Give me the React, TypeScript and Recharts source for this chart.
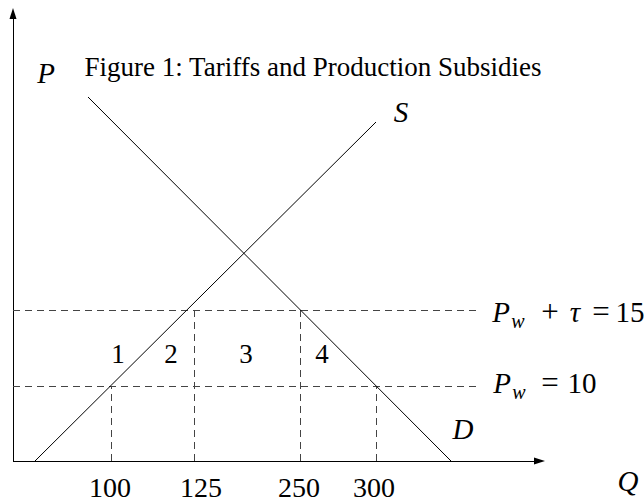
import React from 'react';
import { LineChart, Line, XAxis, YAxis, ReferenceLine, ReferenceDot } from 'recharts';

// Diagram units: the figure is schematic, so positions are in plot units read off the picture
// (origin at the corner of the axes, roughly one unit per pixel).
const Q_MAX = 532;
const P_MAX = 453;

const supplyQ = [22, 363];
const supplyP = [0, 339];
const demandQ = [75, 438];
const demandP = [364, 0];

const priceLevels = [75, 151]; // P_w, P_w + tau
const priceLineEnd = 464;
const dropQ = [98, 181, 287, 363]; // 100, 125, 250, 300
const dropTop = [75, 151, 151, 75];

const qTickPos = [97, 188, 286, 361];
const qTickLabels = ['100', '125', '250', '300'];

const areaLabels = ['1', '2', '3', '4'];
const areaLabelQ = [105, 158, 233, 309];
const areaLabelP = 98;

const FONT = "'Liberation Serif', 'DejaVu Serif', serif";

const supplyData = supplyQ.map((q, i) => ({ q, p: supplyP[i] }));
const demandData = demandQ.map((q, i) => ({ q, p: demandP[i] }));

const Arrow = (props: any) => {
  const { x1, y1, x2, y2 } = props;
  const dx = x2 - x1;
  const dy = y2 - y1;
  const len = Math.hypot(dx, dy) || 1;
  const ux = dx / len;
  const uy = dy / len;
  const hl = 11;
  const hw = 3.5;
  const bx = x2 - ux * hl;
  const by = y2 - uy * hl;
  return (
    <g>
      <line x1={x1} y1={y1} x2={bx} y2={by} stroke="#000" strokeWidth={1} shapeRendering="crispEdges" />
      <polygon
        points={`${x2},${y2} ${bx - uy * hw},${by + ux * hw} ${bx + uy * hw},${by - ux * hw}`}
        fill="#000"
      />
    </g>
  );
};

const textAt = (content: string, italic = false, size = 27) => (p: any) => (
  <text
    x={p.cx}
    y={p.cy}
    textAnchor="middle"
    fontFamily={FONT}
    fontSize={size}
    fontStyle={italic ? 'italic' : 'normal'}
    fill="#000"
  >
    {content}
  </text>
);

// math label pieces: text, centre offset from the label start, italic, subscript
type Piece = [string, number, boolean, boolean];
const pwTauPieces: Piece[] = [
  ['P', 11, true, false],
  ['w', 28, true, true],
  ['+', 60, false, false],
  ['τ', 85, true, false],
  ['=', 111, false, false],
  ['15', 140, false, false],
];
const pwPieces: Piece[] = [
  ['P', 11, true, false],
  ['w', 28, true, true],
  ['=', 59, false, false],
  ['10', 91, false, false],
];

const mathAt = (pieces: Piece[]) => (p: any) => (
  <g fontFamily={FONT} fill="#000">
    {pieces.map(([t, off, it, sub], i) => (
      <text
        key={i}
        x={p.cx + off}
        y={p.cy + (sub ? 6 : 0)}
        textAnchor="middle"
        fontSize={sub ? 20 : t === '+' || t === '=' ? 31 : 29}
        fontStyle={it ? 'italic' : 'normal'}
      >
        {t}
      </text>
    ))}
  </g>
);

export default function App() {
  return (
    <div style={{ position: 'absolute', left: 0, top: 0, background: '#fff' }}>
      <LineChart width={644} height={502} margin={{ top: 8, right: 99, left: 13, bottom: 0 }}>
        <XAxis
          dataKey="q"
          type="number"
          domain={[0, Q_MAX]}
          allowDataOverflow
          ticks={qTickPos}
          interval={0}
          tickFormatter={(v: number) => qTickLabels[qTickPos.indexOf(v)]}
          axisLine={false}
          tickLine={false}
          tickMargin={10}
          height={41}
          tick={{ fontSize: 28, fill: '#000', fontFamily: FONT }}
        />
        <YAxis type="number" domain={[0, P_MAX]} allowDataOverflow hide />

        {/* axes with arrowheads */}
        <ReferenceLine segment={[{ x: 0, y: 0 }, { x: Q_MAX, y: 0 }]} shape={Arrow} />
        <ReferenceLine segment={[{ x: 0, y: 0 }, { x: 0, y: P_MAX }]} shape={Arrow} />

        {/* price levels */}
        {priceLevels.map((p) => (
          <ReferenceLine
            key={`h${p}`}
            segment={[{ x: 0, y: p }, { x: priceLineEnd, y: p }]}
            stroke="#444"
            strokeWidth={1}
            strokeDasharray="7 5"
            shapeRendering="crispEdges"
          />
        ))}
        {/* quantities */}
        {dropQ.map((q, i) => (
          <ReferenceLine
            key={`v${q}`}
            segment={[{ x: q, y: 0 }, { x: q, y: dropTop[i] }]}
            stroke="#444"
            strokeWidth={1}
            strokeDasharray="7 5"
            shapeRendering="crispEdges"
          />
        ))}

        <Line data={supplyData} dataKey="p" type="linear" stroke="#000" strokeWidth={1} dot={false} isAnimationActive={false} />
        <Line data={demandData} dataKey="p" type="linear" stroke="#000" strokeWidth={1} dot={false} isAnimationActive={false} />

        {areaLabels.map((t, i) => (
          <ReferenceDot key={`a${t}`} x={areaLabelQ[i]} y={areaLabelP} ifOverflow="visible" shape={textAt(t)} />
        ))}

        <ReferenceDot x={33} y={378} ifOverflow="visible" shape={textAt('P', true, 29)} />
        <ReferenceDot x={300} y={385} ifOverflow="visible" shape={textAt('Figure 1: Tariffs and Production Subsidies')} />
        <ReferenceDot x={388} y={339} ifOverflow="visible" shape={textAt('S', true, 29)} />
        <ReferenceDot x={450} y={22} ifOverflow="visible" shape={textAt('D', true, 29)} />
        <ReferenceDot x={615} y={-30} ifOverflow="visible" shape={textAt('Q', true, 29)} />
        <ReferenceDot x={477} y={139} ifOverflow="visible" shape={mathAt(pwTauPieces)} />
        <ReferenceDot x={478} y={68} ifOverflow="visible" shape={mathAt(pwPieces)} />
      </LineChart>
    </div>
  );
}
